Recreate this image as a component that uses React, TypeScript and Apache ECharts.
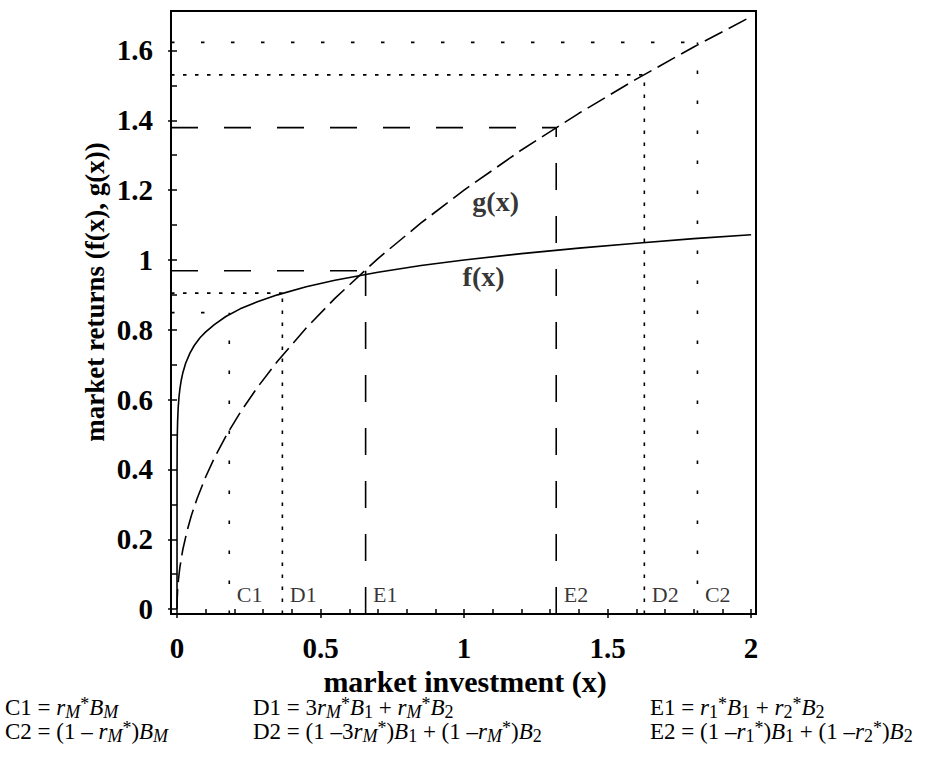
import React, { useEffect, useRef } from 'react';
import * as echarts from 'echarts';

const SERIF = "'Liberation Serif', 'Times New Roman', serif";

// axis frame extents
const X_MIN = -0.021;
const X_MAX = 2.017;
const Y_MIN = -0.014;
const Y_MAX = 1.713;

const X_MAJOR = [0, 0.5, 1, 1.5, 2];
const X_MINOR = [0.1, 0.2, 0.3, 0.4, 0.6, 0.7, 0.8, 0.9, 1.1, 1.2, 1.3, 1.4, 1.6, 1.7, 1.8, 1.9];
const Y_MAJOR = [0, 0.2, 0.4, 0.6, 0.8, 1, 1.2, 1.4, 1.6];
const Y_MINOR = [0.1, 0.3, 0.5, 0.7, 0.9, 1.1, 1.3, 1.5];

// f(x): solid curve
const F_X = [0, 0.00001, 0.0001, 0.0005, 0.001, 0.002, 0.004, 0.007, 0.01, 0.015, 0.02, 0.03, 0.045, 0.06, 0.08, 0.1, 0.13, 0.17, 0.22, 0.28, 0.35, 0.45, 0.55, 0.7, 0.85, 1.0, 1.2, 1.4, 1.6, 1.8, 2.0];
const F_Y = [0, 0.316, 0.398, 0.468, 0.501, 0.537, 0.576, 0.609, 0.631, 0.657, 0.676, 0.704, 0.733, 0.755, 0.777, 0.794, 0.815, 0.838, 0.860, 0.880, 0.900, 0.923, 0.942, 0.965, 0.984, 1.0, 1.018, 1.034, 1.048, 1.061, 1.072];

// g(x): dashed curve
const G_X = [0, 0.0005, 0.002, 0.005, 0.01, 0.02, 0.035, 0.05, 0.07, 0.1, 0.13, 0.17, 0.22, 0.28, 0.35, 0.45, 0.55, 0.7, 0.85, 1.0, 1.2, 1.4, 1.6, 1.8, 2.0];
const G_Y = [0, 0.027, 0.054, 0.085, 0.12, 0.17, 0.224, 0.268, 0.317, 0.379, 0.433, 0.495, 0.563, 0.635, 0.71, 0.805, 0.89, 1.004, 1.106, 1.2, 1.315, 1.42, 1.518, 1.61, 1.697];

// reference lines
const REF_NAMES = ['C1', 'D1', 'E1', 'E2', 'D2', 'C2'];
const REF_X = [0.182, 0.367, 0.657, 1.321, 1.628, 1.813];
const REF_Y = [0.849, 0.905, 0.969, 1.379, 1.53, 1.623];
const REF_KIND = ['spacedot', 'dot', 'dash', 'dash', 'dot', 'spacedot'];
const REF_LABEL_Y = 0.042;

const CURVE_LABELS = ['g(x)', 'f(x)'];
const CURVE_LABEL_X = [1.11, 1.068];
const CURVE_LABEL_Y = [1.166, 0.954];

const DASHES: Record<string, number[]> = {
  spacedot: [3.5, 26.5],
  dot: [3.5, 8.5],
  dash: [27, 26],
};

const ROW1 = 707;
const ROW2 = 731;
const FORMULAS = [
  { x: 5, y: ROW1, t: '{n|C1 = }{i|r}{si|M}{p|*}{i|B}{si|M}' },
  { x: 5, y: ROW2, t: '{n|C2 = (1 – }{i|r}{si|M}{p|*}{n|)}{i|B}{si|M}' },
  { x: 253, y: ROW1, t: '{n|D1 = 3}{i|r}{si|M}{p|*}{i|B}{s|1}{n| + }{i|r}{si|M}{p|*}{i|B}{s|2}' },
  { x: 253, y: ROW2, t: '{n|D2 = (1 –3}{i|r}{si|M}{p|*}{n|)}{i|B}{s|1}{n| + (1 –}{i|r}{si|M}{p|*}{n|)}{i|B}{s|2}' },
  { x: 650, y: ROW1, t: '{n|E1 = }{i|r}{s|1}{p|*}{i|B}{s|1}{n| + }{i|r}{s|2}{p|*}{i|B}{s|2}' },
  { x: 650, y: ROW2, t: '{n|E2 = (1 –}{i|r}{s|1}{p|*}{n|)}{i|B}{s|1}{n| + (1 –}{i|r}{s|2}{p|*}{n|)}{i|B}{s|2}' },
];

const MAIN = 23;
const SUB = 18;
const LINE_H = 28;
const RICH = {
  n: { fontFamily: SERIF, fontSize: MAIN, lineHeight: LINE_H, fill: '#000', color: '#000' },
  i: { fontFamily: SERIF, fontSize: MAIN, fontStyle: 'italic', lineHeight: LINE_H, fill: '#000', color: '#000' },
  si: { fontFamily: SERIF, fontSize: SUB, fontStyle: 'italic', verticalAlign: 'bottom', fill: '#000', color: '#000' },
  s: { fontFamily: SERIF, fontSize: SUB, verticalAlign: 'bottom', fill: '#000', color: '#000' },
  p: { fontFamily: SERIF, fontSize: SUB, verticalAlign: 'top', padding: [2, 0, 0, 0], fill: '#000', color: '#000' },
};

function buildOption() {
  const refSeries: any[] = [];
  REF_X.forEach((x, i) => {
    const y = REF_Y[i];
    const ls = {
      color: '#000',
      width: 1.6,
      type: DASHES[REF_KIND[i]],
      cap: 'butt',
    };
    refSeries.push({
      type: 'line',
      xAxisIndex: 0,
      yAxisIndex: 0,
      data: [[x, Y_MIN], [x, y]],
      showSymbol: false,
      symbol: 'none',
      lineStyle: ls,
      silent: true,
      z: 2,
    });
    refSeries.push({
      type: 'line',
      xAxisIndex: 0,
      yAxisIndex: 0,
      data: [[X_MIN, y], [x, y]],
      showSymbol: false,
      symbol: 'none',
      lineStyle: ls,
      silent: true,
      z: 2,
    });
  });

  const tickStyle = { color: '#000', width: 1.5 };
  const labelStyle = {
    fontFamily: SERIF,
    fontSize: 29,
    fontWeight: 'bold',
    color: '#000',
  };

  return {
    animation: false,
    backgroundColor: '#fff',
    grid: {
      left: 171,
      top: 11,
      right: 178,
      bottom: 159,
      show: true,
      borderColor: '#000',
      borderWidth: 2,
      backgroundColor: 'transparent',
      containLabel: false,
      outerBoundsMode: 'none',
    },
    xAxis: [
      {
        type: 'value',
        min: X_MIN,
        max: X_MAX,
        position: 'bottom',
        axisLine: { show: false },
        axisTick: { show: true, length: 9, customValues: X_MAJOR, lineStyle: tickStyle },
        axisLabel: { show: true, customValues: X_MAJOR, margin: 19, ...labelStyle },
        splitLine: { show: false },
      },
      {
        type: 'value',
        min: X_MIN,
        max: X_MAX,
        position: 'bottom',
        axisLine: { show: false },
        axisTick: { show: true, length: 5, customValues: X_MINOR, lineStyle: tickStyle },
        axisLabel: { show: false },
        splitLine: { show: false },
      },
    ],
    yAxis: [
      {
        type: 'value',
        min: Y_MIN,
        max: Y_MAX,
        position: 'left',
        axisLine: { show: false },
        axisTick: { show: true, length: 9, customValues: Y_MAJOR, lineStyle: tickStyle },
        axisLabel: { show: true, customValues: Y_MAJOR, margin: 18, ...labelStyle },
        splitLine: { show: false },
      },
      {
        type: 'value',
        min: Y_MIN,
        max: Y_MAX,
        position: 'left',
        axisLine: { show: false },
        axisTick: { show: true, length: 5, customValues: Y_MINOR, lineStyle: tickStyle },
        axisLabel: { show: false },
        splitLine: { show: false },
      },
    ],
    series: [
      ...refSeries,
      {
        name: 'f(x)',
        type: 'line',
        xAxisIndex: 0,
        yAxisIndex: 0,
        data: F_X.map((x, i) => [x, F_Y[i]]),
        showSymbol: false,
        symbol: 'none',
        lineStyle: { color: '#000', width: 1.6 },
        z: 3,
      },
      {
        name: 'g(x)',
        type: 'line',
        xAxisIndex: 0,
        yAxisIndex: 0,
        data: G_X.map((x, i) => [x, G_Y[i]]),
        showSymbol: false,
        symbol: 'none',
        lineStyle: { color: '#000', width: 1.6, type: [20, 7], cap: 'butt' },
        z: 3,
      },
      {
        type: 'scatter',
        xAxisIndex: 0,
        yAxisIndex: 0,
        symbolSize: 1,
        itemStyle: { color: 'rgba(0,0,0,0)' },
        data: CURVE_LABELS.map((n, i) => ({ name: n, value: [CURVE_LABEL_X[i], CURVE_LABEL_Y[i]] })),
        label: {
          show: true,
          position: 'inside',
          formatter: '{b}',
          fontFamily: SERIF,
          fontSize: 28,
          fontWeight: 'bold',
          color: '#000',
        },
        silent: true,
        z: 4,
      },
      {
        type: 'scatter',
        xAxisIndex: 0,
        yAxisIndex: 0,
        symbolSize: 1,
        itemStyle: { color: 'rgba(0,0,0,0)' },
        data: REF_NAMES.map((n, i) => ({ name: n, value: [REF_X[i], REF_LABEL_Y] })),
        label: {
          show: true,
          position: 'right',
          distance: 7,
          formatter: '{b}',
          fontFamily: SERIF,
          fontSize: 22,
          color: '#000',
        },
        silent: true,
        z: 4,
      },
    ],
    graphic: [
      {
        type: 'text',
        x: 465,
        y: 681,
        style: {
          text: 'market investment (x)',
          fontFamily: SERIF,
          fontSize: 30,
          fontWeight: 'bold',
          fill: '#000',
          align: 'center',
          verticalAlign: 'middle',
          textAlign: 'center',
          textVerticalAlign: 'middle',
        },
      },
      {
        type: 'text',
        x: 95,
        y: 292,
        rotation: Math.PI / 2,
        style: {
          text: 'market returns (f(x), g(x))',
          fontFamily: SERIF,
          fontSize: 27,
          fontWeight: 'bold',
          fill: '#000',
          align: 'center',
          verticalAlign: 'middle',
          textAlign: 'center',
          textVerticalAlign: 'middle',
        },
      },
      ...FORMULAS.map((f) => ({
        type: 'text',
        x: f.x,
        y: f.y,
        style: {
          text: f.t,
          rich: RICH,
          fontFamily: SERIF,
          fontSize: MAIN,
          fill: '#000',
          align: 'left',
          verticalAlign: 'middle',
          textAlign: 'left',
          textVerticalAlign: 'middle',
        },
      })),
    ],
  };
}

export default function App() {
  const ref = useRef<HTMLDivElement>(null);
  useEffect(() => {
    if (!ref.current) return;
    const chart = echarts.init(ref.current, null, { renderer: 'svg' });
    chart.setOption(buildOption() as any);
    return () => chart.dispose();
  }, []);
  return (
    <div
      ref={ref}
      style={{ position: 'absolute', left: 0, top: 0, width: 934, height: 773, background: '#fff' }}
    />
  );
}
